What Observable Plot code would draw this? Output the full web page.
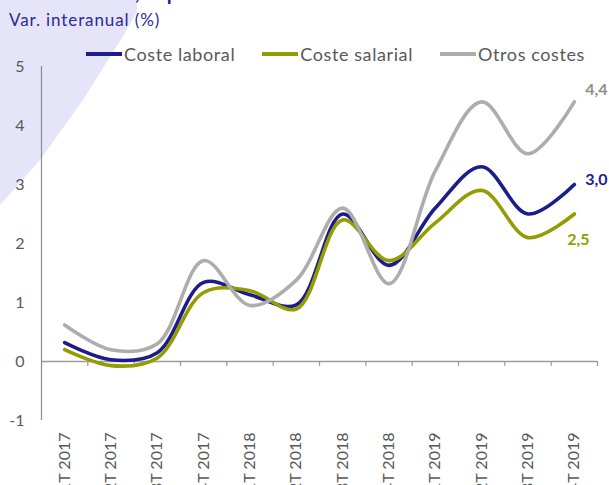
<!DOCTYPE html>
<html>
<head>
<meta charset="utf-8">
<script src="https://cdn.jsdelivr.net/npm/d3@7"></script>
<script src="https://cdn.jsdelivr.net/npm/@observablehq/plot@0.6"></script>
<style>
  body { margin: 0; width: 609px; height: 485px; overflow: hidden; position: relative; background: #fff; font-family: Lato, "Open Sans", sans-serif; }
  #bg { position: absolute; left: 0; top: 0; width: 140px; height: 210px; background: #e6e4f8;
        clip-path: polygon(0 0, 137px 0, 137px 12px, 125px 33px, 83px 100px, 40px 160px, 0 205px); }
  #title { position: absolute; left: 12px; top: -20px; font-weight: bold; font-size: 20px; color: #1f1f7a; white-space: nowrap; letter-spacing: 0.5px; }
  #sub { position: absolute; left: 9px; top: 9px; font-size: 17px; letter-spacing: 0.9px; color: #2a2a9a; white-space: nowrap; }
  #legend { position: absolute; left: 86px; top: 43px; display: flex; align-items: center; font-size: 18px; letter-spacing: 0.6px; color: #595959; white-space: nowrap; }
  .item { display: flex; align-items: center; margin-right: 27px; }
  .sw { width: 36px; height: 4px; margin-right: 2px; }
  #chart { position: absolute; left: 0; top: 0; }
</style>
</head>
<body>
<div id="bg"></div>
<div id="title">Coste laboral, España</div>
<div id="sub">Var. interanual (%)</div>
<div id="legend"></div>
<div id="chart"></div>
<script>
const quarters = ["1T 2017","2T 2017","3T 2017","4T 2017","1T 2018","2T 2018","3T 2018","4T 2018","1T 2019","2T 2019","3T 2019","4T 2019"];
const costeLaboral  = [0.32, 0.03, 0.15, 1.34, 1.13, 0.96, 2.50, 1.63, 2.60, 3.30, 2.50, 3.0];
const costeSalarial = [0.20, -0.07, 0.06, 1.17, 1.20, 0.89, 2.40, 1.71, 2.35, 2.90, 2.10, 2.5];
const otrosCostes   = [0.62, 0.20, 0.30, 1.71, 0.95, 1.38, 2.60, 1.32, 3.23, 4.40, 3.52, 4.4];
const seriesNames = ["Coste laboral", "Coste salarial", "Otros costes"];
const seriesValues = [costeLaboral, costeSalarial, otrosCostes];
const lastLabels = ["3,0", "2,5", "4,4"];
const yTicks = [-1, 0, 1, 2, 3, 4, 5];

const lineColors = ["#1c1c8c", "#939c00", "#adadad"];
const labelColors = ["#1c1c8c", "#939c00", "#8f8f8f"];

const rows = seriesNames.flatMap((s, si) => seriesValues[si].map((v, i) => ({series: s, i, v})));
const ends = seriesNames.map((s, si) => ({series: s, i: quarters.length - 1, v: seriesValues[si][quarters.length - 1], label: lastLabels[si]}));
const bounds = d3.range(quarters.length).map(i => i + 0.5);

// legend
const legend = document.getElementById("legend");
seriesNames.forEach((s, si) => {
  const it = document.createElement("div"); it.className = "item";
  const sw = document.createElement("div"); sw.className = "sw"; sw.style.background = lineColors[si];
  const tx = document.createElement("span"); tx.textContent = s;
  it.appendChild(sw); it.appendChild(tx); legend.appendChild(it);
});

const color = d3.scaleOrdinal(seriesNames, lineColors);
const lcolor = d3.scaleOrdinal(seriesNames, labelColors);

const chart = Plot.plot({
  width: 609, height: 485,
  marginLeft: 41, marginRight: 12, marginTop: 66, marginBottom: 65,
  style: {background: "transparent", fontFamily: "Lato, sans-serif"},
  x: {domain: [-0.5, quarters.length - 0.5]},
  y: {domain: [-1, 5]},
  marks: [
    Plot.ruleY([0], {stroke: "#9a9a9a", strokeWidth: 1.5}),
    Plot.ruleX(bounds, {x: d => d, y1: 0, y2: 0, insetBottom: -5, stroke: "#9a9a9a", strokeWidth: 1.2}),
    Plot.ruleX([-0.5], {y1: -1, y2: 5, stroke: "#8a8a8a", strokeWidth: 1.2}),
    Plot.axisY({ticks: yTicks, tickSize: 0, tickPadding: 17, fontSize: 16, fill: "#595959", label: null, tickFormat: d => String(d)}),
    Plot.axisX({ticks: d3.range(quarters.length), tickFormat: i => quarters[i], tickRotate: -90, tickSize: 0, tickPadding: 12, fontSize: 16, fill: "#595959", label: null}),
    Plot.line(rows, {x: "i", y: "v", z: "series", stroke: d => color(d.series), strokeWidth: 3.6, curve: "catmull-rom"}),
    Plot.text([ends[2]], {x: "i", y: "v", text: "label", fill: d => lcolor(d.series), fontWeight: "bold", fontSize: 16, textAnchor: "start", dx: 11, dy: -12}),
    Plot.text([ends[0]], {x: "i", y: "v", text: "label", fill: d => lcolor(d.series), fontWeight: "bold", fontSize: 16, textAnchor: "start", dx: 11, dy: -5}),
    Plot.text([ends[1]], {x: "i", y: "v", text: "label", fill: d => lcolor(d.series), fontWeight: "bold", fontSize: 16, textAnchor: "start", dx: -7, dy: 26})
  ]
});
document.getElementById("chart").appendChild(chart);
</script>
</body>
</html>
